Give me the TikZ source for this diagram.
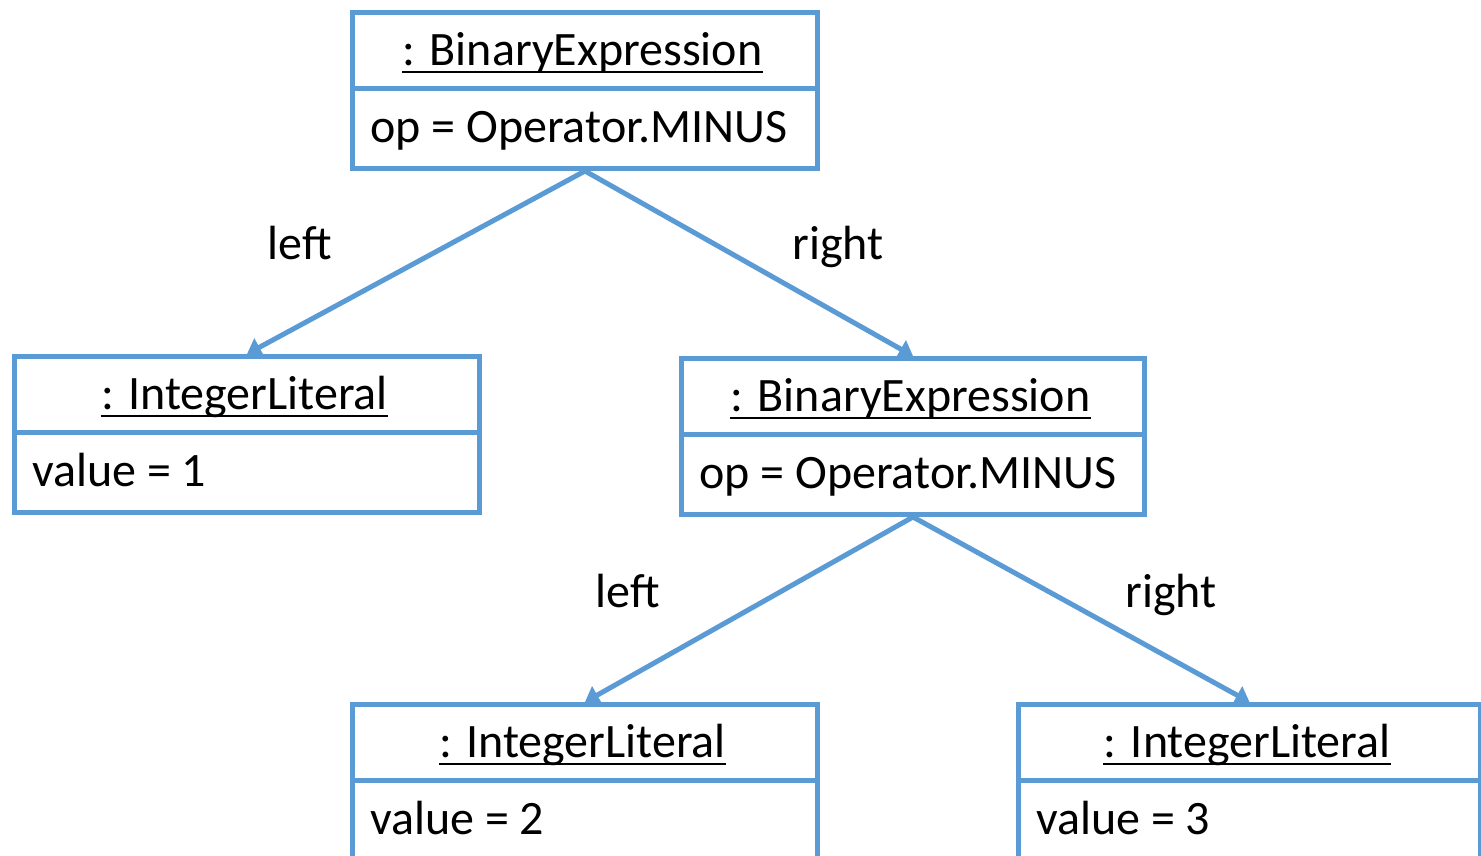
\documentclass[tikz,border=0pt]{standalone}
\usepackage{fontspec}
\setmainfont{Carlito}
\usetikzlibrary{arrows.meta}
\definecolor{umlblue}{RGB}{91,155,213}
\tikzset{
 boxline/.style={draw=umlblue, line width=5pt},
 conn/.style={draw=umlblue, line width=5pt, -{Triangle[length=14pt,width=20pt]}},
 txt/.style={inner sep=0pt, font=\fontsize{48}{56}\selectfont},
 ulline/.style={line width=2.5pt, black}
}
\newcommand\umlbox[6]{%
 \node[boxline, rectangle, minimum width=#4pt, minimum height=156pt, anchor=north west, inner sep=0pt] (#1) at (#2,#3) {};
 \draw[boxline] ([yshift=-78pt]#1.north west) -- ([yshift=-78pt]#1.north east);
 \node[txt, anchor=base] (#1t) at ({#2+#4/2},{#3+55}) {#5};
 \draw[ulline] ([yshift=-7pt]#1t.base west) -- ([yshift=-7pt]#1t.base east);
 \node[txt, anchor=base west] (#1a) at ({#2+20},{#3+132}) {#6};
}
\begin{document}
\begin{tikzpicture}[x=1pt,y=-1pt]
\useasboundingbox (0,0) rectangle (1481,855);
\clip (0,0) rectangle (1481,855);
\umlbox{ba}{350}{10}{465}{: BinaryExpression}{op = Operator.MINUS}
\umlbox{bb}{12}{354}{465}{: IntegerLiteral}{value = 1}
\umlbox{bc}{679}{356}{463}{: BinaryExpression}{op = Operator.MINUS}
\umlbox{bd}{350}{702}{465}{: IntegerLiteral}{value = 2}
\umlbox{be}{1016}{702}{462}{: IntegerLiteral}{value = 3}
\draw[conn] (ba.south) -- (bb.north);
\draw[conn] (ba.south) -- (bc.north);
\draw[conn] (bc.south) -- (bd.north);
\draw[conn] (bc.south) -- (be.north);
\node[txt, anchor=base] (l1) at (300,259) {left};
\node[txt, anchor=base] (r1) at (838,259) {right};
\node[txt, anchor=base] (l2) at (628,607) {left};
\node[txt, anchor=base] (r2) at (1171,607) {right};
\end{tikzpicture}
\end{document}
